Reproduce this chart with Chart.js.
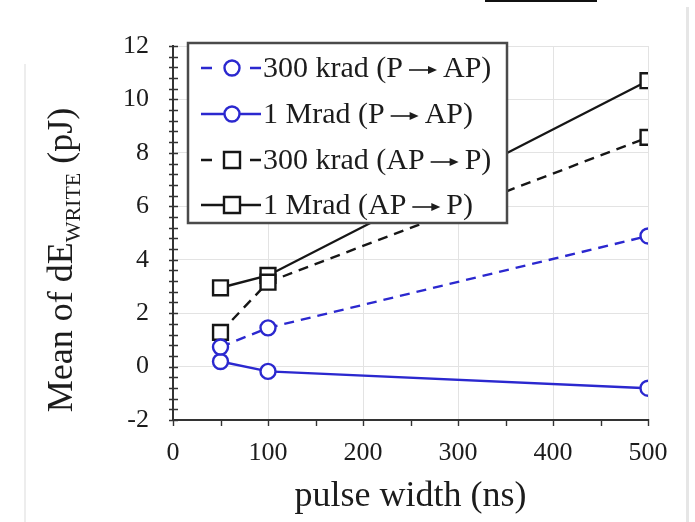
<!DOCTYPE html>
<html>
<head>
<meta charset="utf-8">
<title>Mean of dE_WRITE vs pulse width</title>
<script src="https://cdn.jsdelivr.net/npm/chart.js@4.4.0/dist/chart.umd.min.js"></script>
<style>
  html, body { margin: 0; padding: 0; background: #fff; }
  #wrap { position: relative; width: 695px; height: 522px; overflow: hidden; }
  #myChart { position: absolute; left: 0; top: 0; }
  .edge-r { position: absolute; left: 686px; top: 7px; width: 3px; height: 515px; background: #e6e6e6; }
  .edge-l { position: absolute; left: 24px; top: 64px; width: 2px; height: 458px; background: #ededed; }
  .rule-top { position: absolute; left: 485px; top: 0; width: 112px; height: 2px; background: #111; }
</style>
</head>
<body>
<div id="wrap">
  <div class="edge-l"></div>
  <div class="edge-r"></div>
  <div class="rule-top"></div>
  <canvas id="myChart"></canvas>
</div>
<script>
// pulse widths (ns) and mean dE_WRITE (pJ) per radiation dose / switching direction
var pulseWidth = [50, 100, 500];
var krad300PtoAP = [0.73, 1.45, 4.89];
var mrad1PtoAP = [0.19, -0.18, -0.81];
var krad300APtoP = [1.28, 3.16, 8.58];
var mrad1APtoP = [2.95, 3.41, 10.7];
var seriesLabels = ['300 krad (P \u2192 AP)', '1 Mrad (P \u2192 AP)', '300 krad (AP \u2192 P)', '1 Mrad (AP \u2192 P)'];
var xTickValues = [0, 100, 200, 300, 400, 500];
var yTickValues = [-2, 0, 2, 4, 6, 8, 10, 12];

var BLUE = '#2b28cf';
var BLACK = '#161616';
var SERIF = '"Liberation Serif", "Times New Roman", serif';

window.addEventListener('load', function() {
    var canvas = document.getElementById('myChart');
    canvas.width = 695;
    canvas.height = 522;
    var context = canvas.getContext('2d');

    function points(values) {
        return pulseWidth.map(function(x, i) { return { x: x, y: values[i] }; });
    }

    function makeSet(label, values, color, style, dashed) {
        return {
            label: label,
            data: points(values),
            borderColor: color,
            borderWidth: 2.4,
            borderDash: dashed ? [10, 7] : [],
            pointStyle: style,
            pointRadius: style === 'rect' ? 10.5 : 7.5,
            pointBorderWidth: 2.4,
            pointBorderColor: color,
            pointBackgroundColor: '#fff',
            fill: false,
            tension: 0
        };
    }

    // legend label with a long drawn arrow in place of the arrow glyph
    function drawLabel(ctx, text, x, y) {
        var parts = text.split('\u2192');
        ctx.font = '30px ' + SERIF;
        var left = parts[0].trim();
        ctx.fillText(left, x, y);
        x += ctx.measureText(left).width;
        if (parts.length > 1) {
            var ax0 = x + 6, ax1 = x + 34, ay = y + 1;
            ctx.save();
            ctx.strokeStyle = '#1c1c1c';
            ctx.lineWidth = 1.6;
            ctx.beginPath();
            ctx.moveTo(ax0, ay);
            ctx.lineTo(ax1 - 5, ay);
            ctx.stroke();
            ctx.beginPath();
            ctx.moveTo(ax1, ay);
            ctx.lineTo(ax1 - 9, ay - 4);
            ctx.lineTo(ax1 - 9, ay + 4);
            ctx.closePath();
            ctx.fill();
            ctx.restore();
            ctx.fillText(parts[1].trim(), ax1 + 6, y);
        }
    }

    // axis ticks, boxed legend and the y title with its subscript
    var decorations = {
        id: 'decorations',
        afterDraw: function(chart) {
            var ctx = chart.ctx;
            var xs = chart.scales.x, ys = chart.scales.y;
            var x0 = xs.getPixelForValue(0);
            var yb = ys.getPixelForValue(-2);
            var i;

            ctx.save();
            ctx.strokeStyle = '#333';
            ctx.lineWidth = 1.4;
            ctx.beginPath();
            for (i = 0; i <= 35; i++) {
                var py = Math.round(ys.getPixelForValue(-2 + i * 0.4)) + 0.5;
                ctx.moveTo(x0 - 4, py);
                ctx.lineTo(x0 + 5, py);
            }
            for (i = 0; i <= 10; i++) {
                var px = Math.round(xs.getPixelForValue(i * 50)) + 0.5;
                ctx.moveTo(px, yb - 1);
                ctx.lineTo(px, yb + 6);
            }
            ctx.stroke();

            // legend box
            var bx = 188, by = 43, bw = 319, bh = 180;
            ctx.fillStyle = '#fff';
            ctx.fillRect(bx, by, bw, bh);
            ctx.strokeStyle = '#4a4a4a';
            ctx.lineWidth = 2.5;
            ctx.strokeRect(bx, by, bw, bh);

            var rowY = [68, 114, 160, 205];
            chart.data.datasets.forEach(function(ds, k) {
                var y = rowY[k];
                var cx = 232;
                ctx.strokeStyle = ds.borderColor;
                ctx.lineWidth = 2.4;
                ctx.beginPath();
                if (ds.borderDash.length) {
                    ctx.moveTo(201, y); ctx.lineTo(212, y);
                    ctx.moveTo(250, y); ctx.lineTo(261, y);
                } else {
                    ctx.moveTo(201, y); ctx.lineTo(261, y);
                }
                ctx.stroke();
                ctx.fillStyle = '#fff';
                ctx.beginPath();
                if (ds.pointStyle === 'rect') {
                    ctx.rect(cx - 8, y - 8, 16, 16);
                } else {
                    ctx.arc(cx, y, 7.5, 0, Math.PI * 2);
                }
                ctx.fill();
                ctx.stroke();

                ctx.fillStyle = '#1c1c1c';
                ctx.textBaseline = 'middle';
                ctx.textAlign = 'left';
                drawLabel(ctx, ds.label, 263, y + 1);
            });

            // y title: Mean of dE_WRITE (pJ)
            var mainFont = '36px ' + SERIF;
            var subFont = '22px ' + SERIF;
            var partA = 'Mean of dE', partB = 'WRITE', partC = ' (pJ)';
            ctx.font = mainFont;
            var wA = ctx.measureText(partA).width, wC = ctx.measureText(partC).width;
            ctx.font = subFont;
            var wB = ctx.measureText(partB).width;
            var total = wA + wB + wC;
            var midY = (ys.top + ys.bottom) / 2 + 27;
            ctx.translate(72, midY);
            ctx.rotate(-Math.PI / 2);
            ctx.fillStyle = '#1c1c1c';
            ctx.textBaseline = 'alphabetic';
            ctx.textAlign = 'left';
            var sx = -total / 2;
            ctx.font = mainFont;
            ctx.fillText(partA, sx, 0);
            ctx.font = subFont;
            ctx.fillText(partB, sx + wA, 8);
            ctx.font = mainFont;
            ctx.fillText(partC, sx + wA + wB, 0);
            ctx.restore();
        }
    };

    var chart = new Chart(context, {
        type: 'line',
        data: {
            datasets: [
                makeSet(seriesLabels[0], krad300PtoAP, BLUE, 'circle', true),
                makeSet(seriesLabels[1], mrad1PtoAP, BLUE, 'circle', false),
                makeSet(seriesLabels[2], krad300APtoP, BLACK, 'rect', true),
                makeSet(seriesLabels[3], mrad1APtoP, BLACK, 'rect', false)
            ]
        },
        options: {
            responsive: false,
            animation: false,
            layout: { padding: { left: 0, right: 47, top: 46, bottom: 0 } },
            plugins: {
                legend: { display: false },
                tooltip: { enabled: false }
            },
            scales: {
                x: {
                    type: 'linear',
                    min: 0,
                    max: 500,
                    afterBuildTicks: function(scale) {
                        scale.ticks = xTickValues.map(function(v) { return { value: v }; });
                    },
                    afterFit: function(scale) { scale.height = 102; },
                    grid: { color: '#e3e3e3', lineWidth: 1, drawTicks: false },
                    border: { color: '#333', width: 2 },
                    ticks: { color: '#1c1c1c', font: { family: SERIF, size: 26 }, padding: 18, maxRotation: 0 },
                    title: {
                        display: true,
                        text: 'pulse width (ns)',
                        color: '#1c1c1c',
                        font: { family: SERIF, size: 36 },
                        padding: { top: 0, bottom: 4 }
                    }
                },
                y: {
                    min: -2,
                    max: 12,
                    afterBuildTicks: function(scale) {
                        scale.ticks = yTickValues.map(function(v) { return { value: v }; });
                    },
                    afterFit: function(scale) { scale.width = 173; },
                    grid: { color: '#e3e3e3', lineWidth: 1, drawTicks: false },
                    border: { color: '#333', width: 2 },
                    ticks: { color: '#1c1c1c', font: { family: SERIF, size: 26 }, padding: 24 }
                }
            }
        },
        plugins: [decorations]
    });
});
</script>
</body>
</html>
